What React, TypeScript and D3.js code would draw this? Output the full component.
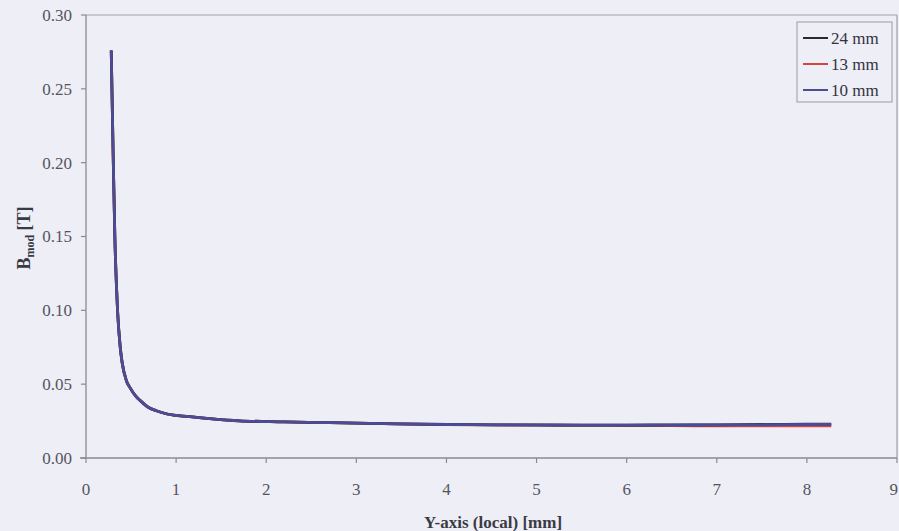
import React from "react";
import * as d3 from "d3";

const xTicks = [0, 1, 2, 3, 4, 5, 6, 7, 8, 9];
const yTicks = [0, 0.05, 0.1, 0.15, 0.2, 0.25, 0.3];

const xValues = [0.28, 0.3, 0.32, 0.35, 0.38, 0.4, 0.45, 0.49, 0.55, 0.6, 0.7, 0.78, 0.9, 1.15, 1.4, 1.7, 2.2, 2.7, 3.0, 3.45, 4.0, 4.5, 5.0, 5.5, 6.0, 6.5, 7.0, 7.5, 8.0, 8.27];
const b24 = [0.276, 0.21, 0.15, 0.1, 0.075, 0.065, 0.052, 0.0475, 0.042, 0.039, 0.034, 0.032, 0.0298, 0.028, 0.0265, 0.0252, 0.0245, 0.0239, 0.0236, 0.0231, 0.0227, 0.0225, 0.0224, 0.0223, 0.0223, 0.0224, 0.0225, 0.0227, 0.0229, 0.023];
const b13 = [0.276, 0.21, 0.15, 0.1, 0.075, 0.065, 0.052, 0.0475, 0.042, 0.039, 0.034, 0.032, 0.0298, 0.028, 0.0265, 0.0252, 0.0245, 0.0239, 0.0236, 0.0231, 0.0226, 0.0224, 0.0222, 0.0221, 0.022, 0.0219, 0.0218, 0.0218, 0.0217, 0.0217];
const b10 = [0.276, 0.21, 0.15, 0.1, 0.075, 0.065, 0.052, 0.0475, 0.042, 0.039, 0.034, 0.032, 0.0298, 0.028, 0.0265, 0.0252, 0.0245, 0.0239, 0.0236, 0.0231, 0.0227, 0.0225, 0.0223, 0.0222, 0.0222, 0.0223, 0.0224, 0.0225, 0.0227, 0.0228];

const seriesNames = ["24 mm", "13 mm", "10 mm"];
const seriesValues = [b24, b13, b10];
const seriesColors = ["#2a2a2a", "#d8453f", "#4c4c96"];

export default function App() {
  const W = 899, H = 531;
  const x = d3.scaleLinear().domain([0, 9]).range([86, 897]);
  const y = d3.scaleLinear().domain([0, 0.3]).range([458, 15]);
  const line = d3.line<[number, number]>().x(d => x(d[0])).y(d => y(d[1])).curve(d3.curveMonotoneX);
  const ff = { fontFamily: "'Liberation Serif', 'DejaVu Serif', serif" };
  const axisColor = "#8a8a96";
  const textColor = "#555560";
  // draw order: 13 (red) first, then 24 (black), then 10 (blue) on top
  const order = [1, 0, 2];
  return (
    <svg width={W} height={H} style={{ position: "absolute", left: 0, top: 0, background: "#eeeef6" }}>
      <rect x={0} y={0} width={W} height={H} fill="#eeeef6" />
      {/* frame */}
      <line x1={x(0)} x2={x(9)} y1={y(0.3)} y2={y(0.3)} stroke="#a0a0ac" strokeWidth={1.2} />
      <line x1={x(9)} x2={x(9)} y1={y(0.3)} y2={y(0)} stroke="#a0a0ac" strokeWidth={1.2} />
      <line x1={x(0)} x2={x(0)} y1={y(0.3)} y2={y(0)} stroke={axisColor} strokeWidth={1.3} />
      <line x1={x(0) - 6} x2={x(9)} y1={y(0)} y2={y(0)} stroke={axisColor} strokeWidth={1.3} />
      {yTicks.map(t => (
        <g key={"y" + t}>
          <line x1={x(0) - 5} x2={x(0)} y1={y(t)} y2={y(t)} stroke={axisColor} strokeWidth={1.2} />
          <text x={72} y={y(t)} dy="0.35em" textAnchor="end" fontSize={17} fill={textColor} style={ff}>{t.toFixed(2)}</text>
        </g>
      ))}
      {xTicks.map((t, i) => {
        const last = i === xTicks.length - 1;
        return (
          <g key={"x" + t}>
            <line x1={x(t)} x2={x(t)} y1={y(0)} y2={y(0) + 5} stroke={axisColor} strokeWidth={1.2} />
            <text x={last ? W - 1 : x(t)} y={489} dy="0.35em" textAnchor={last ? "end" : "middle"} fontSize={17} fill={textColor} style={ff}>{t}</text>
          </g>
        );
      })}
      <text x={493} y={522} dy="0.35em" textAnchor="middle" fontSize={17} fontWeight="bold" fill="#3a3a44" style={ff}>Y-axis (local) [mm]</text>
      <text transform="translate(30,238) rotate(-90)" textAnchor="middle" fontSize={18} fontWeight="bold" fill="#3a3a44" style={ff}>
        B<tspan fontSize={12} dy="4">mod</tspan><tspan dy="-4"> [T]</tspan>
      </text>
      {order.map(i => (
        <path key={seriesNames[i]} d={line(xValues.map((v, k) => [v, seriesValues[i][k]] as [number, number])) || ""} fill="none" stroke={seriesColors[i]} strokeWidth={2.8} />
      ))}
      {/* legend */}
      <rect x={797} y={22} width={95} height={80} fill="#eeeef6" stroke="#9a9aa6" strokeWidth={1} />
      {seriesNames.map((n, i) => (
        <g key={"l" + n}>
          <line x1={803} x2={828} y1={38 + i * 26} y2={38 + i * 26} stroke={seriesColors[i]} strokeWidth={2} />
          <text x={831} y={38 + i * 26} dy="0.35em" fontSize={17} fill="#333340" style={ff}>{n}</text>
        </g>
      ))}
    </svg>
  );
}
